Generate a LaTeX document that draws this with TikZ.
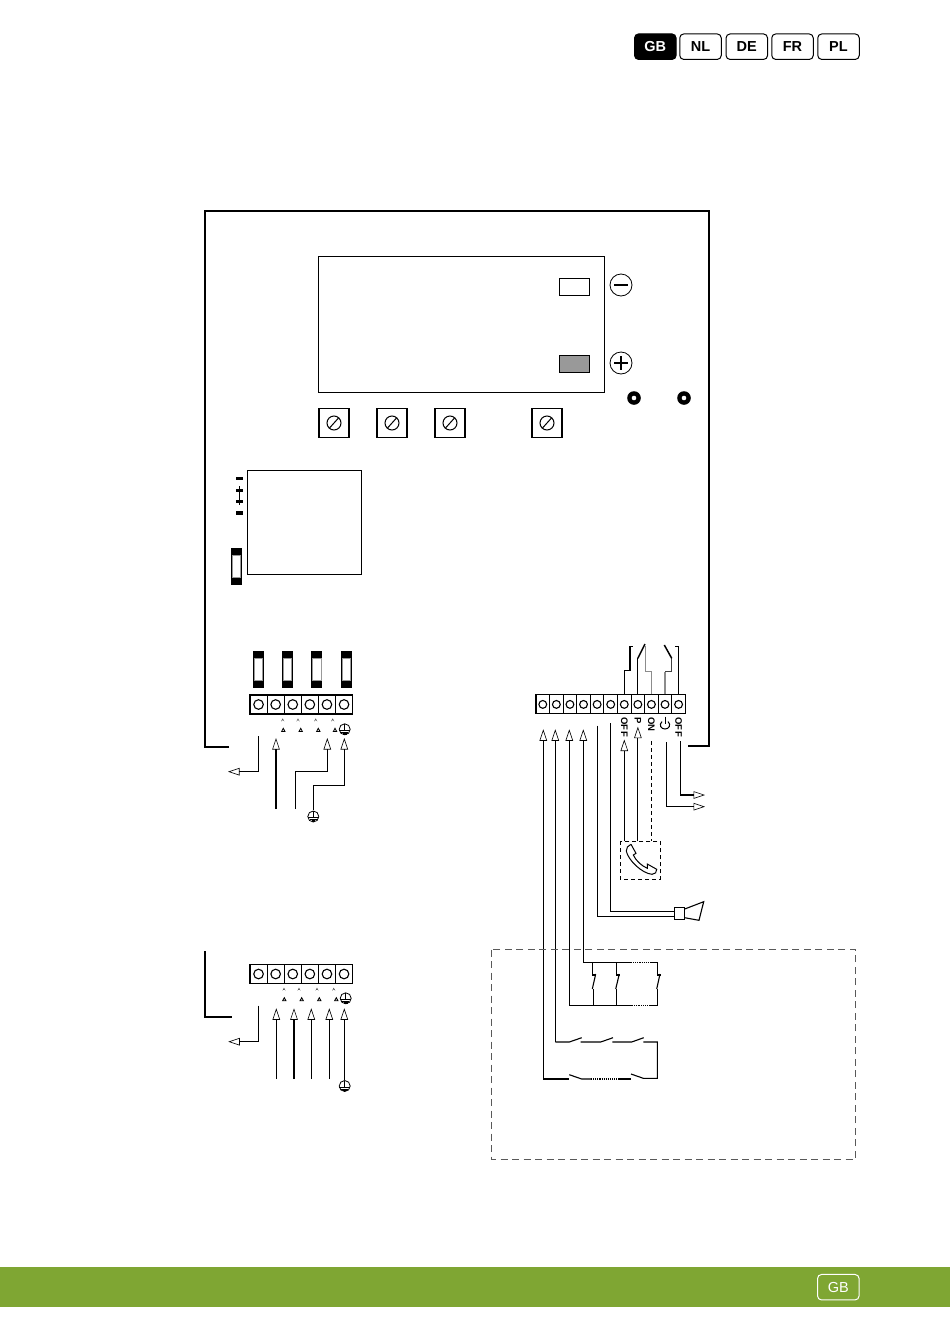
\documentclass[tikz,border=0pt]{standalone}
\usepackage{fontspec}
\setmainfont{Liberation Sans}
\usetikzlibrary{arrows.meta}
\definecolor{bandgreen}{RGB}{127,166,51}
\def\fuse(#1,#2){\fill[black] (#1-5.5, #2) rectangle (#1+5.5, #2+37);
	\draw[line width=0.5pt, fill=white, draw=black!40] (#1-4.2, #2+7.5) rectangle (#1+4.2, #2+29.5);}
\def\earth(#1,#2){\draw[line width=0.8pt] (#1, #2) circle (5.5);
	\draw[line width=0.8pt] (#1, #2-5.5) -- (#1, #2+1);
	\draw[line width=0.8pt] (#1-5.5, #2+1) -- (#1+5.5, #2+1);
	\draw[line width=1pt] (#1-3.5, #2+3) -- (#1+3.5, #2+3);
	\fill (#1-1.8, #2+5.2) rectangle (#1+1.8, #2+3.8);}
\def\screw(#1,#2){\node[screwbox] (s#1) at (#1, #2) {};
	\draw[line width=1pt] (#1, #2) circle (7);
	\draw[line width=1pt] (#1-4.5, #2+5) -- (#1+4.5, #2-5);}
\def\knob(#1,#2){\fill[black] (#1, #2) circle (6.8);
	\fill[white] (#1, #2) circle (2.3);}
\def\tinymark(#1,#2){\fill[black!70] (#1-1.6, #2+1.4) -- (#1, #2-1.6) -- (#1+1.6, #2+1.4) -- (#1, #2) -- cycle;}
\def\lowmark(#1,#2){\draw[line width=0.8pt, fill=black!10] (#1-1.7, #2+1.5) -- (#1, #2-1.7) -- (#1+1.7, #2+1.5) -- cycle;}
\tikzset{
	wire/.style={line width=1.1pt},
	blade/.style={line width=1.5pt},
	greywire/.style={line width=1.1pt, draw=black!45},
	wirearrow/.style={line width=1.1pt, -{Triangle[open, length=11.5pt, width=7.5pt, line width=0.6pt]}},
	cell/.style={draw, line width=1.1pt, inner sep=0pt, minimum height=19pt},
	screwbox/.style={draw, line width=1.1pt, inner sep=0pt, minimum width=30pt, minimum height=29pt},
	lang/.style={draw, line width=1pt, rounded corners=4pt, inner sep=0pt, minimum width=41.5pt, minimum height=25.5pt, font=\bfseries\fontsize{14.5}{15}\selectfont},
	rlabel/.style={rotate=-90, inner sep=0pt, font=\bfseries\fontsize{9.5}{10}\selectfont\addfontfeatures{LetterSpace=6}}
}
\begin{document}
\begin{tikzpicture}[x=1pt, y=-1pt]
	%%%%% START %%%%%
	\useasboundingbox (0, 0) rectangle (950, 1344);

	\node[lang, fill=black, text=white] (gb) at (655.3, 46.7) {GB};
	\node[lang] (nl) at (700.5, 46.7) {NL};
	\node[lang] (de) at (746.8, 46.7) {DE};
	\node[lang] (fr) at (792.5, 46.7) {FR};
	\node[lang] (pl) at (838.5, 46.7) {PL};

	\fill[bandgreen] (0, 1267) rectangle (950, 1307);
	\node[lang, draw=white, text=white, font=\fontsize{14.5}{15}\selectfont] (gbfoot) at (838.3, 1287.2) {GB};

	% housing
	\draw[line width=2pt] (229, 747) -- (205, 747) -- (205, 211) -- (709, 211) -- (709, 745.5) -- (687.5, 745.5);
	\draw[line width=2pt] (205, 951) -- (205, 1016.7) -- (232, 1016.7);

	% display
	\draw[wire] (318.5, 256.5) rectangle (604.5, 392.5);
	\draw[wire] (559.5, 278.5) rectangle (589.5, 295.5);
	\draw[wire, fill=black!40] (559.5, 355.5) rectangle (589.5, 372.5);
	\draw[line width=0.8pt] (621, 285) circle (11);
	\draw[line width=1.7pt] (614, 285) -- (628, 285);
	\draw[line width=0.8pt] (621, 363) circle (11);
	\draw[line width=1.7pt] (614, 363) -- (628, 363);
	\draw[line width=1.7pt] (621, 356) -- (621, 370);
	\knob(634, 398)
	\knob(684, 398)

	\screw(334, 423)
	\screw(392, 423)
	\screw(450, 423)
	\screw(547, 423)

	% board
	\draw[wire] (247.5, 470.5) rectangle (361.5, 574.5);
	\fill[black] (236, 476.7) rectangle (243, 480);
	\fill[black] (236, 511.3) rectangle (243, 514.5);
	\draw[line width=1.3pt] (239.5, 486) -- (239.5, 505);
	\fill[black] (236, 488.7) rectangle (243, 492);
	\fill[black] (236, 499.7) rectangle (243, 503);
	\fuse(236.5, 548)

	\fuse(258.3, 651)
	\fuse(287.5, 651)
	\fuse(316.7, 651)
	\fuse(346, 651)

	% mains terminals
	\foreach \i in {1,...,6} {
		\node[cell, minimum width=17.1pt] (a\i) at ({250+17.1*(\i-0.5)}, 704.5) {};
		\draw[line width=1.1pt] (a\i.center) circle (4.8);
	}
	\tinymark(282.7, 720)
	\tinymark(298, 720)
	\tinymark(315.7, 720)
	\tinymark(332.7, 720)
	\lowmark(283.3, 730)
	\lowmark(300.7, 730)
	\lowmark(318.3, 730)
	\lowmark(335, 730)
	\earth(344.7, 729.3)

	\draw[wirearrow] (258.7, 736) -- (258.7, 771.7) -- (228, 771.7);
	\draw[wirearrow] (276, 809) -- (276, 738);
	\draw[wirearrow] (295.3, 809) -- (295.3, 771.7) -- (327.3, 771.7) -- (327.3, 738);
	\draw[wirearrow] (313.3, 810) -- (313.3, 785.7) -- (344.3, 785.7) -- (344.3, 738);
	\earth(313.3, 816.5)

	% second mains terminals
	\foreach \i in {1,...,6} {
		\node[cell, minimum width=17.1pt] (b\i) at ({250+17.1*(\i-0.5)}, 974) {};
		\draw[line width=1.1pt] (b\i.center) circle (4.8);
	}
	\tinymark(284, 989.3)
	\tinymark(299, 989.3)
	\tinymark(317, 989.3)
	\tinymark(333.7, 989.3)
	\lowmark(284.3, 999.3)
	\lowmark(301.7, 999.3)
	\lowmark(319.3, 999.3)
	\lowmark(336.3, 999.3)
	\earth(345.7, 998.3)

	\draw[wirearrow] (258.7, 1005.7) -- (258.7, 1041.7) -- (228.3, 1041.7);
	\draw[wirearrow] (276.3, 1079) -- (276.3, 1008.3);
	\draw[wirearrow] (294, 1079) -- (294, 1008.3);
	\draw[wirearrow] (311.3, 1079) -- (311.3, 1008.3);
	\draw[wirearrow] (329.3, 1079) -- (329.3, 1008.3);
	\draw[wirearrow] (344.3, 1080) -- (344.3, 1008.3);
	\earth(344.7, 1086)

	% control terminals
	\foreach \i in {1,...,11} {
		\node[cell, minimum width=13.6pt] (c\i) at ({536+13.58*(\i-0.5)}, 704.4) {};
		\draw[line width=1.1pt] (c\i.center) circle (3.9);
	}
	\draw[wire] (c7.north) |- (630, 670.7) -- (630, 646.7) -- (633, 646.7);
	\draw[wire] (c8.north) -- (c8.north |- 0, 658.3);
	\draw[blade] (c8.north |- 0, 658.3) -- (645, 644);
	\draw[greywire] (c9.north) |- (645.7, 671.5) -- (645.7, 646);
	\draw[greywire] (c10.north) -- (c10.north |- 0, 671.5);
	\draw[wire, draw=black!75] (c10.north |- 0, 671.5) -| (671.7, 658.3);
	\draw[blade] (671.7, 658.3) -- (664.3, 645);
	\draw[wire] (c11.north) |- (675, 646.7);

	\node[rlabel, anchor=west] (off1) at (624.3, 716.8) {OFF};
	\node[rlabel, anchor=west] (plabel) at (637.9, 716.8) {P};
	\node[rlabel, anchor=west] (onlabel) at (651.4, 716.8) {ON};
	\draw[line width=1pt] (662, 721.5) .. controls (658.5, 725) and (661, 729) .. (665, 729) .. controls (669, 729) and (671.5, 725) .. (668, 721.5);
	\draw[line width=1pt] (665, 716.7) -- (665, 724);
	\node[rlabel, anchor=west] (off2) at (678.6, 716.8) {OFF};

	\draw[wirearrow] (624.3, 841.3) -- (624.3, 739.5);
	\draw[wirearrow] (637.9, 841.3) -- (637.9, 726.7);
	\draw[line width=1.1pt, dash pattern=on 4pt off 3pt] (651.4, 741) -- (651.4, 841.3);
	\draw[wirearrow] (666.7, 742) -- (666.7, 806.7) -- (705, 806.7);
	\draw[wirearrow] (680.7, 741) -- (680.7, 795) -- (705, 795);

	\draw[wirearrow] (543.3, 1079) -- (543.3, 729.3);
	\draw[wirearrow] (555.3, 1042) -- (555.3, 729.3);
	\draw[wirearrow] (569.3, 1005.3) -- (569.3, 729.3);
	\draw[wirearrow] (583.3, 962.3) -- (583.3, 729.3);
	\draw[wire] (597.3, 725.7) -- (597.3, 916.7) -- (674.3, 916.7);
	\draw[wire] (610.3, 723) -- (610.3, 911.3) -- (674.3, 911.3);

	% telephone
	\draw[wire, dash pattern=on 4pt off 3pt] (620.3, 841.3) rectangle (660.3, 879.3);
	\draw[line width=1pt] (631, 844.3) -- (636, 853.3) -- (633.3, 855) .. controls (636, 861) and (642, 866) .. (647.3, 868.3) -- (647.3, 864) -- (656.7, 869.3) .. controls (657, 872) and (655, 874.5) .. (652, 874.3) .. controls (642, 873.5) and (628, 860) .. (626.3, 851) .. controls (626, 848) and (628, 845.5) .. (631, 844.3);

	% horn
	\draw[wire] (674.3, 907.3) rectangle (684.7, 919.7);
	\draw[wire] (684.7, 909) -- (703.7, 901.7) -- (699, 920.3) -- (684.7, 917.7);

	% remote field
	\draw[line width=0.8pt, draw=black!65, dash pattern=on 7pt off 4.5pt] (491.5, 949.5) rectangle (855.5, 1159);

	% stop contacts
	\draw[wire] (583.3, 962.3) -- (631, 962.3);
	\draw[wire, densely dotted] (631, 962.3) -- (650, 962.3);
	\draw[wire] (650, 962.3) -- (657.3, 962.3) -- (657.3, 975) -- (660.7, 975);
	\draw[wire] (660, 974) -- (656.7, 989);
	\draw[wire] (657.3, 989) -- (657.3, 1005.3) -- (650, 1005.3);
	\draw[wire, densely dotted] (650, 1005.3) -- (631, 1005.3);
	\draw[wire] (631, 1005.3) -- (569.3, 1005.3);
	\draw[wire] (592.3, 962.3) -- (592.3, 975) -- (596, 975);
	\draw[wire] (595.7, 974) -- (592.3, 989);
	\draw[wire] (593.3, 989) -- (593.3, 1005.3);
	\draw[wire] (616.3, 962.3) -- (616.3, 975) -- (619.7, 975);
	\draw[wire] (619.3, 974) -- (615.7, 989);
	\draw[wire] (616.3, 989) -- (616.3, 1005.3);

	% start contacts
	\draw[wire] (555.3, 1042) -- (569.3, 1042) -- (581.7, 1037.7);
	\draw[wire] (580.7, 1042) -- (600.7, 1042) -- (613, 1037.7);
	\draw[wire] (612.3, 1042) -- (631.7, 1042) -- (643.7, 1037.7);
	\draw[wire] (643.3, 1042) -- (657.3, 1042) -- (657.3, 1078.3) -- (643.3, 1078.3) -- (631, 1074);
	\draw[wire] (543.3, 1079) -- (569.3, 1079);
	\draw[wire] (569.3, 1074.7) -- (581.7, 1079) -- (591, 1079);
	\draw[wire, densely dotted] (591, 1079) -- (619.3, 1079);
	\draw[wire] (619.3, 1079) -- (630.7, 1079);

	%%%%% END %%%%%
\end{tikzpicture}
\end{document}
